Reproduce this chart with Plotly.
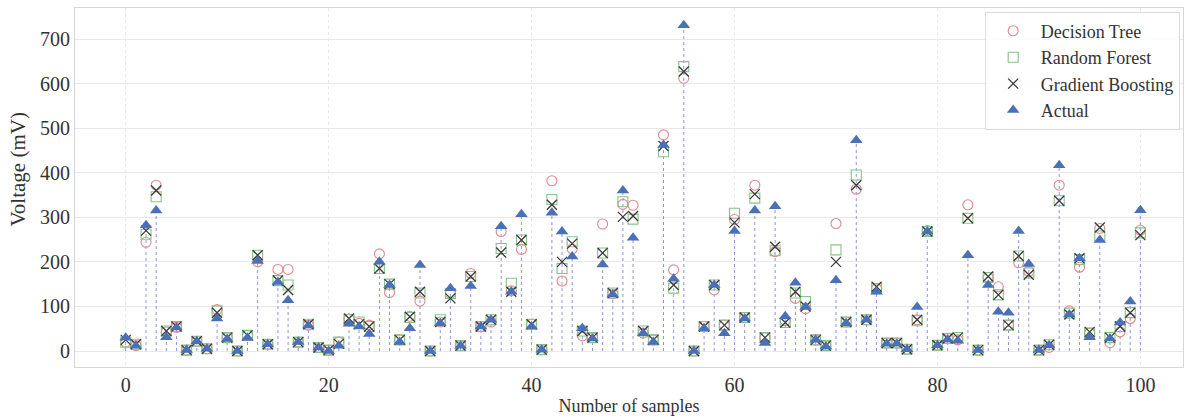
import plotly.graph_objects as go

samples = list(range(101))

decision_tree = [20, 12, 244, 372, 43, 53, 2, 22, 5, 93,
                 30, 0, 35, 200, 15, 183, 183, 20, 58, 8,
                 2, 20, 72, 62, 58, 218, 131, 25, 78, 112,
                 0, 65, 129, 12, 174, 55, 65, 268, 135, 228,
                 60, 3, 382, 157, 229, 34, 30, 285, 128, 329,
                 327, 40, 25, 485, 182, 612, 0, 55, 137, 58,
                 295, 75, 372, 30, 223, 68, 118, 95, 25, 12,
                 286, 65, 363, 70, 140, 18, 18, 4, 70, 270,
                 13, 28, 25, 328, 2, 165, 144, 58, 198, 178,
                 2, 8, 372, 90, 188, 40, 275, 19, 43, 73,
                 271]

random_forest = [20, 15, 262, 346, 45, 55, 2, 22, 5, 90,
                 30, 0, 35, 215, 15, 158, 148, 20, 60, 8,
                 2, 20, 70, 65, 55, 185, 150, 25, 75, 130,
                 0, 70, 129, 12, 167, 55, 70, 230, 152, 249,
                 60, 3, 340, 185, 245, 45, 30, 220, 130, 335,
                 296, 45, 25, 447, 141, 638, 0, 55, 148, 58,
                 309, 75, 343, 30, 225, 64, 130, 111, 25, 12,
                 227, 65, 395, 70, 140, 18, 18, 4, 68, 268,
                 13, 28, 30, 298, 2, 165, 126, 58, 213, 175,
                 2, 14, 337, 85, 205, 40, 258, 30, 55, 86,
                 265]

gradient_boosting = [25, 15, 270, 360, 45, 55, 2, 22, 5, 86,
                     30, 0, 35, 215, 15, 158, 137, 20, 60, 8,
                     2, 16, 73, 60, 55, 185, 150, 25, 77, 133,
                     0, 65, 118, 12, 167, 55, 70, 221, 133, 249,
                     60, 3, 328, 200, 241, 45, 30, 220, 130, 301,
                     303, 45, 25, 460, 148, 627, 0, 55, 148, 58,
                     288, 75, 352, 30, 234, 64, 133, 100, 25, 12,
                     200, 65, 372, 70, 144, 18, 18, 4, 70, 268,
                     13, 28, 30, 298, 2, 167, 126, 58, 213, 171,
                     2, 14, 337, 82, 208, 43, 277, 30, 55, 86,
                     260]

actual = [30, 12, 282, 315, 31, 53, 2, 22, 5, 73,
          27, 0, 30, 202, 15, 155, 114, 20, 57, 8,
          0, 12, 61, 55, 38, 200, 148, 20, 51, 193,
          0, 62, 141, 12, 146, 55, 70, 280, 133, 307,
          55, 3, 310, 268, 212, 51, 28, 194, 127, 360,
          254, 40, 20, 462, 162, 731, 0, 51, 148, 40,
          269, 73, 315, 18, 325, 78, 153, 99, 25, 10,
          159, 62, 473, 70, 133, 16, 16, 4, 99, 268,
          13, 26, 23, 215, 2, 148, 88, 86, 269, 195,
          2, 13, 417, 82, 208, 31, 249, 28, 64, 111,
          316]

x_ticks = [0, 20, 40, 60, 80, 100]
y_ticks = [0, 100, 200, 300, 400, 500, 600, 700]

FONT = "Liberation Serif, Times New Roman, serif"

stem_x, stem_y = [], []
for xi, yi in zip(samples, actual):
    stem_x += [xi, xi, None]
    stem_y += [0, yi, None]

fig = go.Figure()
fig.add_trace(go.Scatter(x=stem_x, y=stem_y, mode="lines",
                         line=dict(color="#8f94d8", width=1, dash="dot"),
                         showlegend=False, hoverinfo="skip"))
fig.add_trace(go.Scatter(x=samples, y=decision_tree, mode="markers", name="Decision Tree",
                         marker=dict(symbol="circle-open", size=10, color="#e28890",
                                     line=dict(width=1.1))))
fig.add_trace(go.Scatter(x=samples, y=random_forest, mode="markers", name="Random Forest",
                         marker=dict(symbol="square-open", size=10, color="#86c486",
                                     line=dict(width=1.1))))
fig.add_trace(go.Scatter(x=samples, y=gradient_boosting, mode="markers", name="Gradient Boosting",
                         marker=dict(symbol="x-thin-open", size=10, color="#3a3a3a",
                                     line=dict(width=1.3, color="#3a3a3a"))))
fig.add_trace(go.Scatter(x=samples, y=actual, mode="markers", name="Actual",
                         marker=dict(symbol="triangle-up", size=11, color="#4a70b8",
                                     line=dict(width=0))))

fig.update_layout(
    width=1185, height=419,
    margin=dict(l=75, r=2, t=8, b=52),
    paper_bgcolor="white", plot_bgcolor="white",
    font=dict(family=FONT, size=20, color="#333333"),
    showlegend=True,
    legend=dict(x=0.997, y=0.99, xanchor="right", yanchor="top",
                bgcolor="rgba(255,255,255,0.85)", bordercolor="#dcdcdc", borderwidth=1,
                font=dict(family=FONT, size=18, color="#333333"),
                itemwidth=45, tracegroupgap=0),
    annotations=[dict(text="Voltage (mV)", textangle=-90, xref="paper", yref="paper",
                      x=-0.0523, y=0.55, xanchor="center", yanchor="middle",
                      showarrow=False,
                      font=dict(family=FONT, size=21, color="#333333"))],
)
fig.update_xaxes(range=[-5, 104.2], tickvals=x_ticks, ticks="", showline=True, mirror=True,
                 linecolor="#d6d6d6", linewidth=1, gridcolor="#e8e8ee", gridwidth=1,
                 griddash="dot", zeroline=False,
                 title=dict(text="Number of samples", font=dict(family=FONT, size=18, color="#333333"),
                            standoff=4),
                 tickfont=dict(family=FONT, size=20, color="#333333"))
fig.update_yaxes(range=[-35.9, 769.6], tickvals=y_ticks, ticks="", showline=True, mirror=True,
                 linecolor="#d6d6d6", linewidth=1, gridcolor="#e8e8ee", gridwidth=1,
                 griddash="solid", zeroline=False,
                 tickfont=dict(family=FONT, size=20, color="#333333"))

fig.write_html("out.html", config={"displayModeBar": False},
               post_script="document.body.style.margin='0';document.body.style.overflow='hidden';")
